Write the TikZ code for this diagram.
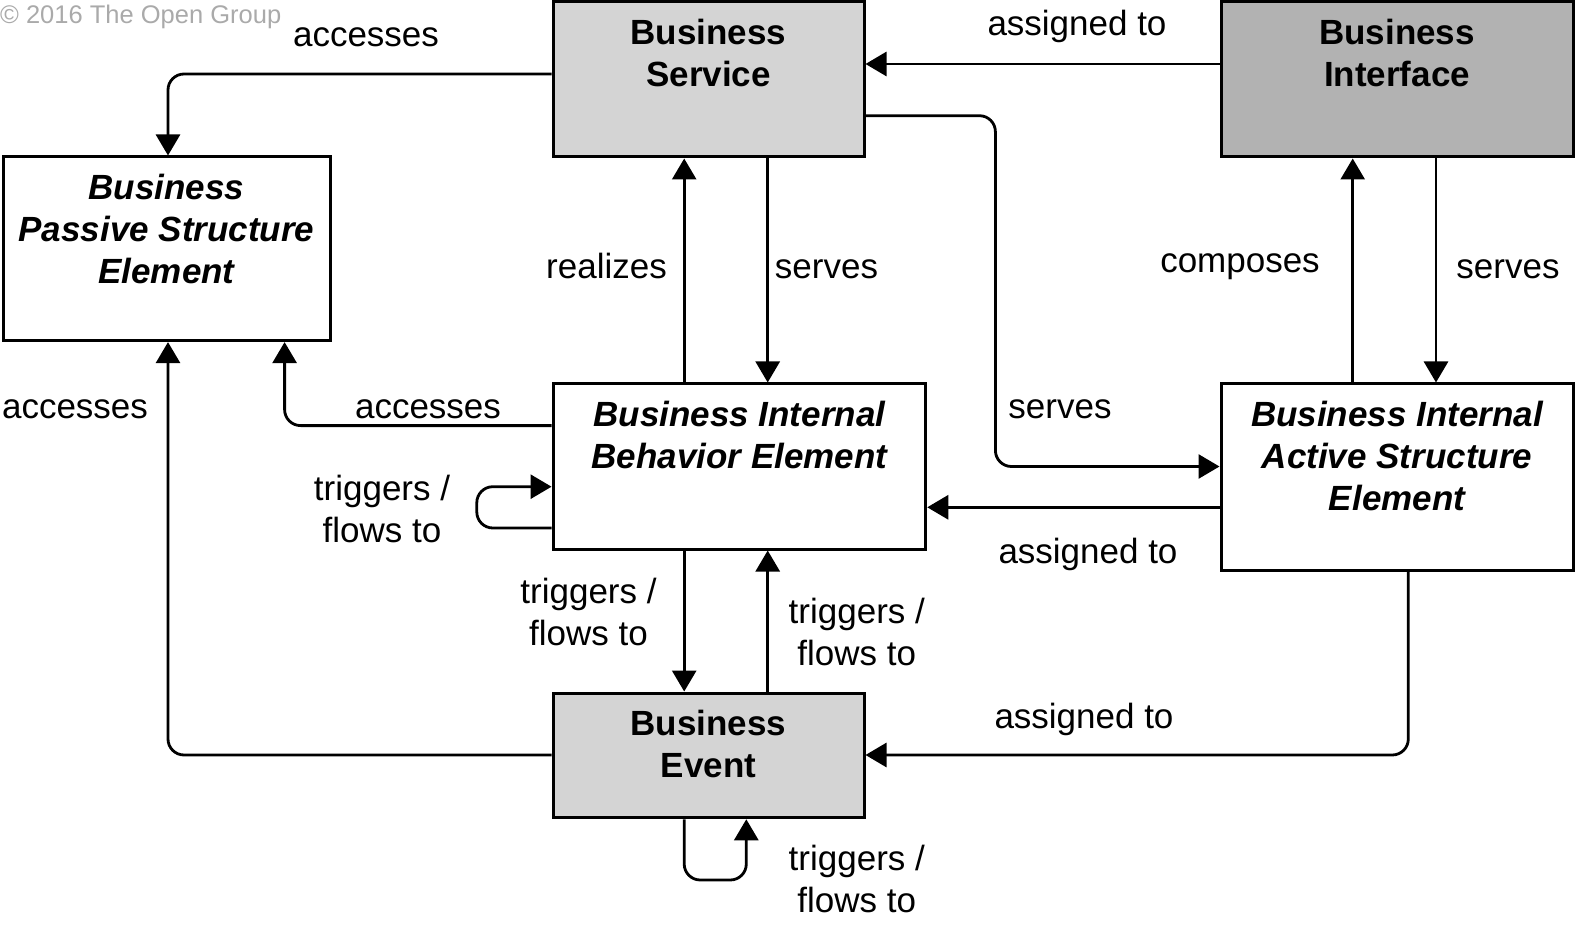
\documentclass[tikz,border=0pt]{standalone}
\usepackage{fontspec}
\setmainfont{Liberation Sans}
\usetikzlibrary{arrows.meta}
\definecolor{lightfill}{HTML}{D4D4D4}
\definecolor{darkfill}{HTML}{B2B2B2}
\definecolor{copygray}{HTML}{AAAAAA}
\begin{document}
\begin{tikzpicture}[x=1pt,y=-1pt,
  box/.style={draw, line width=3pt, inner sep=0pt},
  boxtext/.style={font=\fontsize{35}{42}\selectfont\bfseries, align=center, inner sep=0pt, anchor=north},
  boxtexti/.style={boxtext, font=\fontsize{35}{42}\selectfont\bfseries\itshape},
  conn/.style={line width=2.8pt, -{Triangle[length=21pt,width=24pt]}, rounded corners=16pt},
  lbl/.style={font=\fontsize{35}{41.5}\selectfont, inner sep=0pt, align=center},
  lblb/.style={lbl, anchor=base}
]
\useasboundingbox (0,0) rectangle (1575,925);
\node[text=copygray, anchor=base west, font=\fontsize{25.5}{30}\selectfont, inner sep=0pt] (copy) at (0,24) {© 2016 The Open Group};

% boxes
\node[box, fill=lightfill, minimum width=311pt, minimum height=155pt] (svc) at (708.5,79.5) {};
\node[box, fill=darkfill, minimum width=352pt, minimum height=155pt] (iface) at (1397,79.5) {};
\node[box, fill=white, minimum width=327pt, minimum height=183.6pt] (passive) at (166.5,248.8) {};
\node[box, fill=white, minimum width=372.7pt, minimum height=165pt] (beh) at (739.4,466.5) {};
\node[box, fill=white, minimum width=352pt, minimum height=186pt] (active) at (1397,477) {};
\node[box, fill=lightfill, minimum width=311pt, minimum height=124.7pt] (event) at (708.5,755.4) {};

% box texts
\node[boxtext] (svct) at ([yshift=-18.5pt]svc.north) {Business\\Service};
\node[boxtext] (ifacet) at ([yshift=-18.5pt]iface.north) {Business\\Interface};
\node[boxtexti] (passivet) at ([yshift=-18.5pt]passive.north) {Business\\Passive Structure\\Element};
\node[boxtexti] (beht) at ([yshift=-18.5pt]beh.north) {Business Internal\\Behavior Element};
\node[boxtexti] (activet) at ([yshift=-18.5pt]active.north) {Business Internal\\Active Structure\\Element};
\node[boxtext] (eventt) at ([yshift=-18.5pt]event.north) {Business\\Event};

% connectors
\draw[conn] (svc.west |- 0,74) -| (passive.north -| 168,0);
\draw[conn] (iface.west |- 0,64) -- (svc.east |- 0,64);
\draw[conn] (svc.east |- 0,115.7) -- (995.4,115.7) -- (995.4,466.5) -- (active.west |- 0,466.5);
\draw[conn] (beh.north -| 684.2,0) -- (svc.south -| 684.2,0);
\draw[conn] (svc.south -| 767.7,0) -- (beh.north -| 767.7,0);
\draw[conn] (active.north -| 1352.7,0) -- (iface.south -| 1352.7,0);
\draw[conn] (iface.south -| 1436,0) -- (active.north -| 1436,0);
\draw[conn] (beh.west |- 0,425.6) -| (passive.south -| 284.6,0);
\draw[conn] (beh.west |- 0,528) -- (476.8,528) -- (476.8,486.7) -- (beh.west |- 0,486.7);
\draw[conn] (active.west |- 0,507.3) -- (beh.east |- 0,507.3);
\draw[conn] (beh.south -| 684.2,0) -- (event.north -| 684.2,0);
\draw[conn] (event.north -| 767.7,0) -- (beh.south -| 767.7,0);
\draw[conn] (active.south -| 1408.3,0) |- (event.east |- 0,755);
\draw[conn] (event.west |- 0,755) -| (passive.south -| 168,0);
\draw[conn] (event.south -| 684.2,0) -- (684.2,880) -- (746.3,880) -- (event.south -| 746.3,0);

% labels
\node[lblb] (l1) at (366,47) {accesses};
\node[lblb] (l2) at (1077,35.5) {assigned to};
\node[lblb] (l3) at (606.5,279) {realizes};
\node[lblb] (l4) at (826.5,279) {serves};
\node[lblb] (l5) at (1240,273) {composes};
\node[lblb] (l6) at (1508,279) {serves};
\node[lblb] (l7) at (428,418.5) {accesses};
\node[lblb] (l8) at (75,418.5) {accesses};
\node[lblb] (l9) at (1060,418) {serves};
\node[lblb] (l10) at (1088,563) {assigned to};
\node[lblb] (l11) at (1084,728) {assigned to};
\node[lbl] (l12) at (382,509) {triggers /\\flows to};
\node[lbl] (l13) at (588.5,612) {triggers /\\flows to};
\node[lbl] (l14) at (856.8,632) {triggers /\\flows to};
\node[lbl] (l15) at (856.8,879) {triggers /\\flows to};
\end{tikzpicture}
\end{document}
